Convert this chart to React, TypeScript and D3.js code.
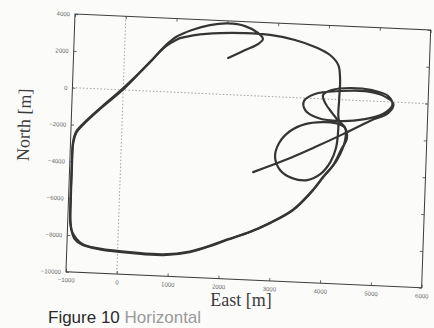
import { useEffect, useRef } from "react";
import * as d3 from "d3";

const xTicks = [-1000, 0, 1000, 2000, 3000, 4000, 5000, 6000];
const yTicks = [4000, 2000, 0, -2000, -4000, -6000, -8000, -10000];

// [east, north] in metres
// first pass: hook at the top, down the west side, back up through the middle
const firstPass: [number, number][] = [
  [2040, 1990], [2370, 2460], [2620, 2820], [2710, 3100], [2610, 3420],
  [2350, 3760], [2010, 3860], [1660, 3730], [1310, 3420], [1000, 3000],
  [790, 2480], [510, 1580], [0, 100], [-440, -1040], [-770, -1950],
  [-900, -2400], [-950, -2950], [-960, -4500], [-960, -6000], [-950, -7300],
  [-920, -7750], [-860, -8180], [-700, -8500], [-350, -8700], [300, -8830],
  [900, -8860], [1420, -8630], [1870, -8200], [2140, -7890], [2590, -7400],
  [2980, -6860], [3420, -6100], [3800, -4970], [3990, -4240], [4250, -3280],
  [4395, -2180], [4390, -1530], [4260, -1110], [4250, -20], [4255, 1065],
  [4210, 1870], [4040, 2400], [3740, 2800], [3340, 3130], [2850, 3340],
  [2360, 3380], [1860, 3320], [1370, 3150], [1080, 2950],
];

// second pass: same loop round again, then the figure-eights on the east side
const secondPass: [number, number][] = [
  [1080, 2950], [800, 2450], [500, 1560], [20, 80], [-430, -1060],
  [-760, -1970], [-890, -2420], [-945, -2980], [-955, -4500], [-955, -6000],
  [-945, -7300], [-900, -7850], [-700, -8450], [-350, -8660], [300, -8790],
  [900, -8820], [1420, -8600], [1870, -8170], [2140, -7860], [2590, -7380],
  [2980, -6840], [3420, -6080], [3800, -4950], [3990, -4220], [4180, -3560],
  [4320, -2730], [4430, -2070], [4370, -1480], [4190, -1280], [3930, -1260],
  [3600, -1410], [3310, -1820], [3100, -2500], [3030, -3270], [3140, -3970],
  [3380, -4370], [3680, -4440], [3930, -4090], [4120, -3410], [4220, -2640],
  [4250, -1820], [4240, -1170], [4120, -740], [3980, -220], [3930, 210],
  [4100, 510], [4460, 660], [4890, 600], [5210, 320], [5300, -160],
  [5120, -670], [4770, -990], [4280, -1160], [3850, -1050], [3590, -650],
  [3560, -160], [3770, 250], [4260, 470], [4750, 530], [5090, 350],
  [5320, -110], [5220, -610], [4870, -1080], [4350, -1860], [3810, -2630],
  [3230, -3410], [2610, -4140],
];

export default function App() {
  const svgRef = useRef<SVGSVGElement>(null);

  useEffect(() => {
    if (!svgRef.current) return;
    const svg = d3.select(svgRef.current);
    svg.selectAll("*").remove();

    const W = 356;
    const H = 258;

    const x = d3.scaleLinear().domain([-1000, 6000]).range([0, W]);
    const y = d3.scaleLinear().domain([-10000, 4000]).range([H, 0]);

    svg.append("rect").attr("width", 434).attr("height", 328).attr("fill", "#fbfbfa");

    // the scan is a little crooked, so tilt the whole plot frame
    const g = svg
      .append("g")
      .attr("transform", "matrix(0.999,0.045,-0.035,0.999,75,14)");

    // zero lines
    g.append("line")
      .attr("x1", x(0)).attr("x2", x(0))
      .attr("y1", 0).attr("y2", H)
      .attr("stroke", "#8a8a8a")
      .attr("stroke-width", 0.8)
      .attr("stroke-dasharray", "1.5,2");
    g.append("line")
      .attr("x1", 0).attr("x2", W)
      .attr("y1", y(0)).attr("y2", y(0))
      .attr("stroke", "#8a8a8a")
      .attr("stroke-width", 0.8)
      .attr("stroke-dasharray", "1.5,2");

    const styleAxis = (sel: any, labels: boolean) => {
      sel.select(".domain").remove();
      sel.selectAll(".tick line").attr("stroke", "#444").attr("stroke-width", 0.8);
      sel.selectAll(".tick text")
        .attr("fill", labels ? "#666" : "none")
        .attr("font-family", "Liberation Sans, Arial, sans-serif")
        .attr("font-size", 6);
    };

    g.append("g")
      .attr("transform", `translate(0,${H})`)
      .call(d3.axisBottom(x).tickValues(xTicks).tickSize(-3).tickPadding(6).tickFormat(d3.format("d")))
      .call((s) => styleAxis(s, true));
    g.append("g")
      .call(d3.axisTop(x).tickValues(xTicks).tickSize(-3).tickFormat(() => ""))
      .call((s) => styleAxis(s, false));
    g.append("g")
      .call(d3.axisLeft(y).tickValues(yTicks).tickSize(-3).tickPadding(5).tickFormat(d3.format("d")))
      .call((s) => styleAxis(s, true));
    g.append("g")
      .attr("transform", `translate(${W},0)`)
      .call(d3.axisRight(y).tickValues(yTicks).tickSize(-3).tickFormat(() => ""))
      .call((s) => styleAxis(s, false));

    g.append("rect")
      .attr("width", W)
      .attr("height", H)
      .attr("fill", "none")
      .attr("stroke", "#3a3a3a")
      .attr("stroke-width", 1);

    const line = d3
      .line<[number, number]>()
      .x((d) => x(d[0]))
      .y((d) => y(d[1]))
      .curve(d3.curveCatmullRom.alpha(0.5));

    [firstPass, secondPass].forEach((track) => {
      g.append("path")
        .attr("d", line(track))
        .attr("fill", "none")
        .attr("stroke", "#353535")
        .attr("stroke-width", 2.2)
        .attr("stroke-linejoin", "round")
        .attr("stroke-linecap", "round");
    });

    svg.append("text")
      .attr("transform", "translate(30,125) rotate(-88)")
      .attr("text-anchor", "middle")
      .attr("font-family", "Liberation Serif, Times New Roman, serif")
      .attr("font-size", 18)
      .attr("fill", "#3a3a3a")
      .text("North [m]");

    svg.append("text")
      .attr("x", 241)
      .attr("y", 306)
      .attr("text-anchor", "middle")
      .attr("font-family", "Liberation Serif, Times New Roman, serif")
      .attr("font-size", 18)
      .attr("fill", "#3a3a3a")
      .text("East [m]");

    const caption = svg.append("text")
      .attr("x", 48)
      .attr("y", 323)
      .attr("font-family", "Liberation Sans, Arial, sans-serif")
      .attr("font-size", 17);
    caption.append("tspan").attr("fill", "#2a2a2a").text("Figure 10 ");
    caption.append("tspan").attr("fill", "#9a9a9a").text("Horizontal");
  }, []);

  return (
    <div style={{ position: "absolute", left: 0, top: 0 }}>
      <svg ref={svgRef} width={434} height={328} style={{ display: "block" }} />
    </div>
  );
}
